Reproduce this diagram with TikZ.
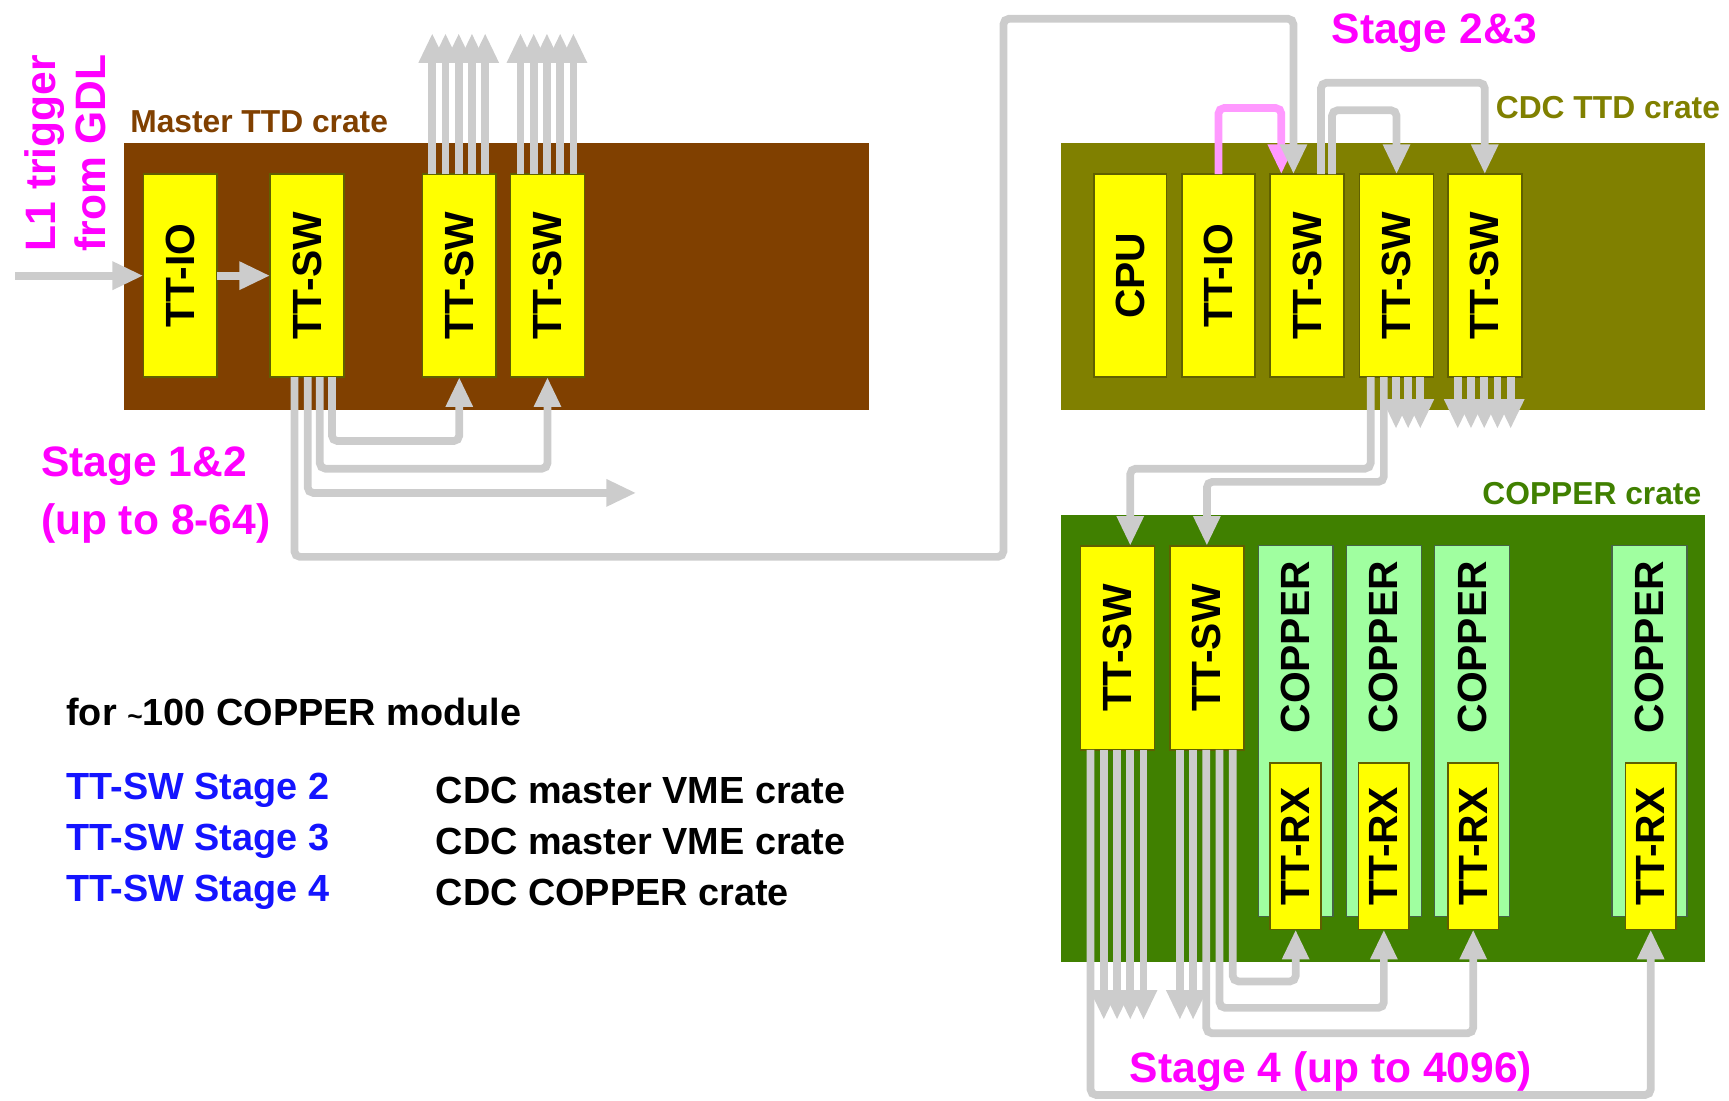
\documentclass[tikz,border=0pt]{standalone}
\usepackage{fontspec}
\setmainfont{Liberation Sans}
\usetikzlibrary{arrows.meta}
\definecolor{cbrown}{RGB}{128,64,0}
\definecolor{colive}{RGB}{128,128,0}
\definecolor{cgreen}{RGB}{64,128,0}
\definecolor{cyel}{RGB}{255,255,0}
\definecolor{cedge}{RGB}{96,96,0}
\definecolor{clgreen}{RGB}{160,255,160}
\definecolor{cpedge}{RGB}{70,100,70}
\definecolor{cgray}{RGB}{204,204,204}
\definecolor{cmag}{RGB}{255,0,255}
\definecolor{cpink}{RGB}{255,153,255}
\definecolor{cblue}{RGB}{20,20,255}
\begin{document}
\begin{tikzpicture}[x=1pt,y=-1pt,
  crate/.style={fill=#1, anchor=north west, inner sep=0pt, outer sep=0pt},
  ybox/.style={draw=cedge, fill=cyel, line width=1.5pt, anchor=north west, inner sep=0pt, outer sep=0pt,
    minimum width=67pt, minimum height=184pt, font=\fontsize{37}{40}\selectfont\bfseries},
  rxbox/.style={ybox, minimum width=46pt, minimum height=151pt},
  cpbox/.style={draw=cpedge, fill=clgreen, line width=1.2pt, anchor=north west, inner sep=0pt, outer sep=0pt,
    minimum width=68pt, minimum height=336pt},
  boxtext/.style={font=\fontsize{37}{40}\selectfont\bfseries, rotate=90, inner sep=0pt},
  cratelabel/.style={font=\fontsize{28.8}{30}\selectfont\bfseries, inner sep=0pt},
  stagelabel/.style={font=\fontsize{38.6}{40}\selectfont\bfseries, text=cmag, inner sep=0pt},
  legend/.style={font=\fontsize{34.3}{36}\selectfont\bfseries, inner sep=0pt, anchor=west},
  conn/.style={draw=cgray, line width=7pt, rounded corners=5pt},
  tip/.style={-{Triangle[length=27pt,width=23pt]}},
]
\useasboundingbox (0,0) rectangle (1568,998);

% ---------- crates ----------
\node[crate=cbrown, minimum width=676pt, minimum height=242pt] (mcrate) at (112,130) {};
\node[crate=colive, minimum width=584pt, minimum height=242pt] (ccrate) at (962,130) {};
\node[crate=cgreen, minimum width=584pt, minimum height=405pt] (kcrate) at (962,467) {};

\node[cratelabel, text=cbrown, anchor=west] (lmaster) at (118,110) {Master TTD crate};
\node[cratelabel, text=colive, anchor=east] (lcdc) at (1560,98) {CDC TTD crate};
\node[cratelabel, text=cgreen, anchor=east] (lcopper) at (1543,448) {COPPER crate};

% ---------- master crate boxes ----------
\node[ybox] (mio) at (130,158) {\rotatebox{90}{TT-IO}};
\node[ybox] (msw1) at (245,158) {\rotatebox{90}{TT-SW}};
\node[ybox] (msw2) at (383,158) {\rotatebox{90}{TT-SW}};
\node[ybox] (msw3) at (463,158) {\rotatebox{90}{TT-SW}};

% ---------- CDC crate boxes ----------
\node[ybox, minimum width=66pt] (ccpu) at (992,158) {\rotatebox{90}{CPU}};
\node[ybox, minimum width=66pt] (cio) at (1072,158) {\rotatebox{90}{TT-IO}};
\node[ybox] (csw1) at (1152,158) {\rotatebox{90}{TT-SW}};
\node[ybox] (csw2) at (1233,158) {\rotatebox{90}{TT-SW}};
\node[ybox] (csw3) at (1313,158) {\rotatebox{90}{TT-SW}};

% ---------- COPPER crate boxes ----------
\node[ybox, minimum height=185pt] (ksw1) at (980,495) {\rotatebox{90}{TT-SW}};
\node[ybox, minimum height=185pt] (ksw2) at (1061,495) {\rotatebox{90}{TT-SW}};
\node[cpbox] (kcp1) at (1141,495) {};
\node[cpbox] (kcp2) at (1221,495) {};
\node[cpbox] (kcp3) at (1301,495) {};
\node[cpbox] (kcp4) at (1462,495) {};
\node[boxtext] (tcp1) at ([yshift=-92pt]kcp1.north) {COPPER};
\node[boxtext] (tcp2) at ([yshift=-92pt]kcp2.north) {COPPER};
\node[boxtext] (tcp3) at ([yshift=-92pt]kcp3.north) {COPPER};
\node[boxtext] (tcp4) at ([yshift=-92pt]kcp4.north) {COPPER};
\node[rxbox] (krx1) at (1152,692) {\rotatebox{90}{TT-RX}};
\node[rxbox] (krx2) at (1232,692) {\rotatebox{90}{TT-RX}};
\node[rxbox] (krx3) at (1313,692) {\rotatebox{90}{TT-RX}};
\node[rxbox] (krx4) at (1474,692) {\rotatebox{90}{TT-RX}};

% ---------- master connectors ----------
\coordinate (l1in) at (14,250);
\draw[conn, -{Triangle[length=28pt,width=24pt]}] (l1in) -- (mio.west);
\draw[conn, -{Triangle[length=28pt,width=24pt]}] (mio.east) -- (msw1.west);
\draw[conn,tip] ([xshift=56pt]msw1.south west) -- ++(0,58) -| (msw2.south);
\draw[conn,tip] ([xshift=45pt]msw1.south west) -- ++(0,83) -| (msw3.south);
\coordinate (mout) at (577,447);
\draw[conn,tip] ([xshift=34pt]msw1.south west) |- (mout);
\foreach \dx in {9,21,33,45,57} {
  \draw[conn,tip] ([xshift=\dx pt]msw2.north west) -- ++(0,-128);
  \draw[conn,tip] ([xshift=\dx pt]msw3.north west) -- ++(0,-128);
}

% ---------- CDC connectors ----------
\draw[draw=cpink, line width=7pt, rounded corners=5pt, tip] (cio.north) -- ++(0,-60) -| ([xshift=10pt]csw1.north west);
\draw[conn,tip] ([xshift=22pt]msw1.south west) -- ++(0,163) -| (910,17) -| ([xshift=21pt]csw1.north west);
\draw[conn,tip] ([xshift=46pt]csw1.north west) -- ++(0,-83) -| (csw3.north);
\draw[conn,tip] ([xshift=56pt]csw1.north west) -- ++(0,-58) -| (csw2.north);
\draw[conn,tip] ([xshift=10pt]csw2.south west) -- ++(0,83) -| ([xshift=45pt]ksw1.north west);
\draw[conn,tip] ([xshift=22pt]csw2.south west) -- ++(0,95) -| (ksw2.north);
\foreach \dx in {33,44,55} \draw[conn,tip] ([xshift=\dx pt]csw2.south west) -- ++(0,47);
\foreach \dx in {9,21,33,45,57} \draw[conn,tip] ([xshift=\dx pt]csw3.south west) -- ++(0,47);

% ---------- COPPER connectors ----------
\draw[conn,tip] ([xshift=9pt]ksw1.south west) -- ++(0,313) -| (krx4.south);
\foreach \dx in {21,33,45,57} \draw[conn,tip] ([xshift=\dx pt]ksw1.south west) -- ++(0,245);
\foreach \dx in {9,21} \draw[conn,tip] ([xshift=\dx pt]ksw2.south west) -- ++(0,245);
\draw[conn,tip] ([xshift=33pt]ksw2.south west) -- ++(0,257) -| (krx3.south);
\draw[conn,tip] ([xshift=45pt]ksw2.south west) -- ++(0,234) -| (krx2.south);
\draw[conn,tip] ([xshift=57pt]ksw2.south west) -- ++(0,210) -| (krx1.south);

% ---------- stage labels ----------
\node[stagelabel, rotate=90, anchor=base west] (l1a) at (50,228) {L1 trigger};
\node[stagelabel, rotate=90, anchor=base west] (l1b) at (96,228) {from GDL};
\node[stagelabel, anchor=west] (s12) at (37,423) {Stage 1\&2};
\node[stagelabel, anchor=west] (s12b) at (37,475) {(up to 8-64)};
\node[stagelabel] (s23) at (1301,30) {Stage 2\&3};
\node[stagelabel] (s4) at (1207,972) {Stage 4 (up to 4096)};

% ---------- legend ----------
\node[legend] (lg0) at (60,646) {for {\fontsize{24}{26}\selectfont\textasciitilde}100 COPPER module};
\node[legend, text=cblue] (lg1) at (60,717) {TT-SW Stage 2};
\node[legend, text=cblue] (lg2) at (60,763) {TT-SW Stage 3};
\node[legend, text=cblue] (lg3) at (60,809) {TT-SW Stage 4};
\node[legend] (lr1) at (395,717) {CDC master VME crate};
\node[legend] (lr2) at (395,763) {CDC master VME crate};
\node[legend] (lr3) at (395,809) {CDC COPPER crate};
\end{tikzpicture}
\end{document}
